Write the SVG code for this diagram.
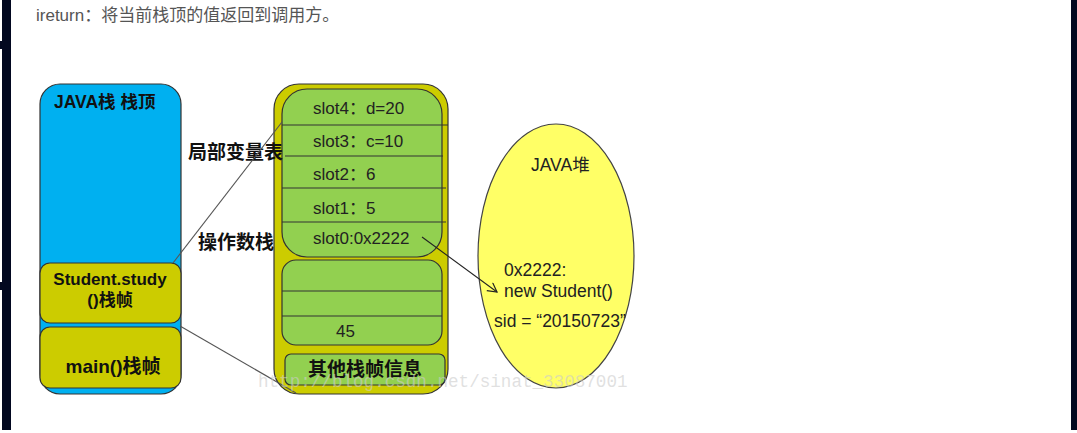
<svg xmlns="http://www.w3.org/2000/svg" width="1077" height="433" viewBox="0 0 1077 433">
<style>
.b{font-family:"Liberation Sans","Noto Sans CJK SC",sans-serif;font-weight:bold;font-size:17px;fill:#111}
.t{font-family:"Liberation Sans","Noto Sans CJK SC",sans-serif;font-size:17px;fill:#222}
.h{font-size:17.5px}
.big{font-size:19px}
.olive{fill:#cccc00;stroke:#333;stroke-width:1.2}
.green{fill:#92d050;stroke:#333;stroke-width:1.2}
.sep{stroke:#333;stroke-width:1.2}
.conn{stroke:#555;stroke-width:1.1;fill:none}
</style>
<defs>
<marker id="arr" markerWidth="12" markerHeight="12" refX="10" refY="5" orient="auto" markerUnits="userSpaceOnUse">
<path d="M1,0 L10,5 L1,10" fill="none" stroke="#222" stroke-width="1.2"/>
</marker>
</defs>
<rect x="0" y="0" width="1077" height="433" fill="#fff"/>
<rect x="2" y="0" width="9" height="430" fill="#020820"/>
<rect x="0" y="41" width="3" height="8" fill="#020820"/>
<rect x="0" y="282" width="3" height="8" fill="#020820"/>
<rect x="1071" y="0" width="6" height="430" fill="#020820"/>
<text x="36" y="21" font-family="'Liberation Sans','Noto Sans CJK SC',sans-serif" font-size="17" fill="#555">ireturn：将当前栈顶的值返回到调用方。</text>

<g id="java-stack">
<rect x="40" y="84" width="141" height="310" rx="20" fill="#00b0f0" stroke="#333" stroke-width="1.2"/>
<text class="b h" x="54" y="108">JAVA栈 栈顶</text>
</g>
<g id="study-frame">
<rect class="olive" x="40" y="263" width="141" height="60" rx="10"/>
<text class="b" x="110" y="285" text-anchor="middle">Student.study</text>
<text class="b" x="110" y="306" text-anchor="middle">()栈帧</text>
</g>
<g id="main-frame">
<rect class="olive" x="40" y="327" width="141" height="61" rx="10"/>
<text class="b big" x="113" y="373" text-anchor="middle">main()栈帧</text>
</g>

<g id="frame-detail">
<rect class="olive" x="274" y="84" width="174" height="310" rx="25"/>
</g>
<g id="local-vars">
<rect class="green" x="282" y="89" width="160" height="168" rx="25"/>
<line class="sep" x1="282" y1="125" x2="448" y2="125"/>
<line class="sep" x1="285" y1="156" x2="443" y2="156"/>
<line class="sep" x1="282" y1="188" x2="446" y2="188"/>
<line class="sep" x1="282" y1="222" x2="446" y2="222"/>
<text class="t" x="313" y="114">slot4：d=20</text>
<text class="t" x="313" y="147">slot3：c=10</text>
<text class="t" x="313" y="180">slot2：6</text>
<text class="t" x="313" y="214">slot1：5</text>
<text class="t" x="313" y="244">slot0:0x2222</text>
</g>
<g id="operand-stack">
<rect class="green" x="282" y="260" width="160" height="85" rx="14"/>
<line class="sep" x1="282" y1="291" x2="442" y2="291"/>
<line class="sep" x1="282" y1="316" x2="442" y2="316"/>
<text class="t" x="336" y="337">45</text>
</g>
<g id="other-info">
<rect class="green" x="285" y="354" width="160" height="31" rx="6"/>
<text class="b big" x="365" y="376" text-anchor="middle">其他栈帧信息</text>
</g>
<g id="labels">
<text class="b big" x="188" y="159">局部变量表</text>
<text class="b big" x="198" y="249">操作数栈</text>
</g>

<g id="java-heap">
<ellipse cx="556" cy="256" rx="78" ry="132" fill="#ffff66" stroke="#444" stroke-width="1.2"/>
<text class="t h" x="531" y="171">JAVA堆</text>
<text class="t h" x="504" y="276">0x2222:</text>
<text class="t h" x="504" y="297">new Student()</text>
<text class="t h" x="494" y="327">sid = “20150723”</text>
</g>

<g id="connectors">
<line class="conn" x1="173" y1="263" x2="282" y2="122"/>
<line class="conn" x1="180" y1="326" x2="296" y2="393"/>
<line x1="422" y1="237" x2="497" y2="292" stroke="#222" stroke-width="1.1" marker-end="url(#arr)"/>
</g>
<text x="258" y="387" font-family="'Liberation Mono',monospace" font-size="17.6" fill="#ccc" fill-opacity="0.6">http://blog.csdn.net/sinat_33087001</text>
</svg>
